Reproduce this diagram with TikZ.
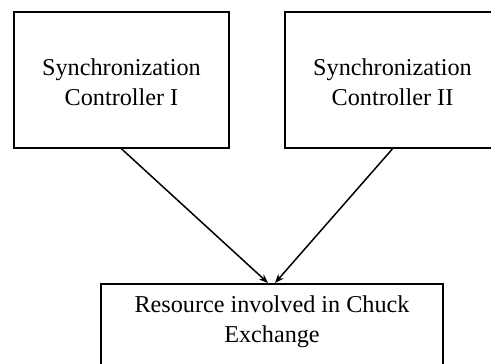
\documentclass[tikz,border=0pt]{standalone}
\usepackage{fontspec}
\setmainfont{Liberation Serif}
\usetikzlibrary{arrows.meta}
\begin{document}
\begin{tikzpicture}[x=1pt,y=1pt,
  txt/.style={align=center, font=\fontsize{24.2}{29.5}\selectfont, inner sep=0pt},
  box/.style={draw, line width=1.6pt, minimum width=215pt, minimum height=136pt},
  conn/.style={line width=1.5pt, -{Stealth[length=9pt,width=7pt]}}]
\useasboundingbox (0,0) rectangle (491,364);
\clip (0,0) rectangle (491,364);
\node[box] (L) at (121.5,284) {};
\node[txt] (Lt) at ([yshift=-2pt]L.center) {Synchronization\\Controller I};
\node[box] (R) at (392.5,284) {};
\node[txt] (Rt) at ([yshift=-2pt]R.center) {Synchronization\\Controller II};
\node[draw, line width=1.6pt, minimum width=342pt, minimum height=100pt, anchor=north, inner sep=0pt] (B) at (272,81) {};
\node[txt, anchor=north] (Bt) at ([yshift=-13pt]B.north) {Resource involved in Chuck\\Exchange};
\coordinate (Bl) at ([xshift=-4pt]B.north);
\coordinate (Br) at ([xshift=3pt]B.north);
\draw[conn] (L.south) -- (Bl);
\draw[conn] (R.south) -- (Br);
\end{tikzpicture}
\end{document}
